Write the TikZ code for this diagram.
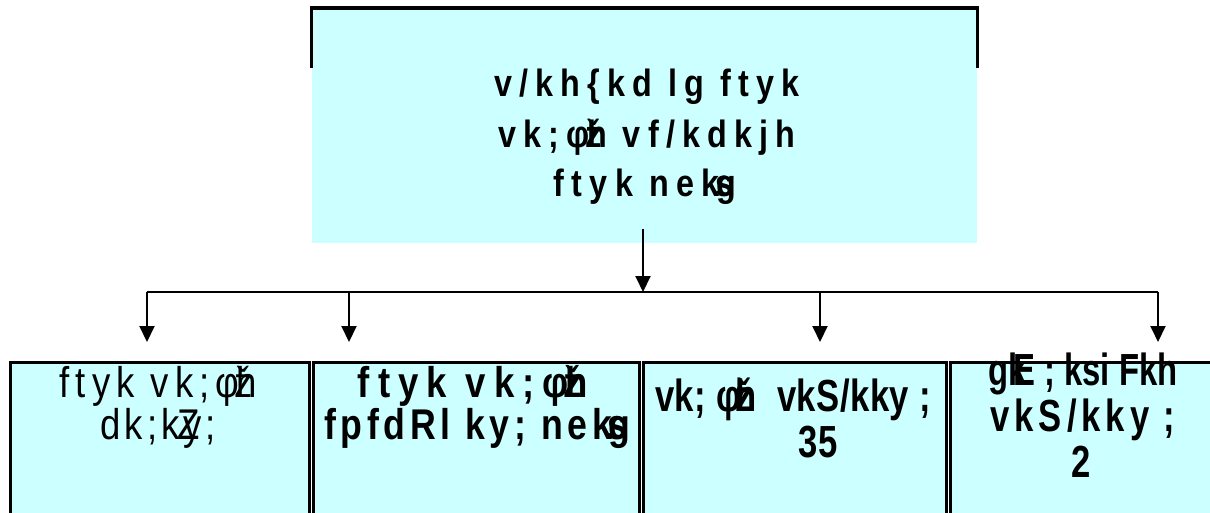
\documentclass[tikz,border=0pt]{standalone}
\usepackage{fontspec}
\setmainfont{Liberation Sans}
\usetikzlibrary{arrows.meta}
\definecolor{boxcyan}{HTML}{CCFFFF}
\newcommand{\qsh}{φ\kern-0.12emž\kern-0.38emh}
\newcommand{\ksg}{k\kern-0.1ems\kern-0.45emg}
\newcommand{\fnt}[3]{\fontsize{#1}{#1}\selectfont\addfontfeatures{FakeStretch=#2,LetterSpace=#3}}
\begin{document}
\begin{tikzpicture}[x=1pt,y=-1pt,
  topbox/.style={fill=boxcyan, inner sep=0pt, minimum width=665pt, minimum height=234pt},
  botbox/.style={fill=boxcyan, draw=black, line width=3pt, inner sep=0pt,
    minimum height=200pt, anchor=north west},
  frame/.style={draw=black, line width=3.5pt},
  ln/.style={inner sep=0pt, anchor=base},
  toptxt/.style={ln, font=\bfseries\fnt{38}{0.85}{19}},
  conn/.style={draw=black, line width=2pt},
  arr/.style={conn, -{Triangle[width=15pt,length=16pt]}}]
\useasboundingbox (0,0) rectangle (1210,513);
\clip (0,0) rectangle (1210,513);
% top box
\node[topbox] (top) at (644.5,126) {};
\node[toptxt] (tt1) at (647,97) {v/kh\{kd lg ftyk};
\node[toptxt] (tt2) at (647,148) {vk;\qsh{} vf/kdkjh};
\node[toptxt] (tt3) at (645,197) {ftyk ne\ksg};
\draw[frame] (311.5,68) -- (311.5,8) -- (977.5,8) -- (977.5,68);
% bottom boxes
\node[botbox, minimum width=299pt] (b1) at (9,361) {};
\node[botbox, minimum width=326pt] (b2) at (312,361) {};
\node[botbox, minimum width=303pt] (b3) at (642,361) {};
\node[botbox, minimum width=280pt] (b4) at (949,361) {};
% texts
\node[ln, font=\fnt{43}{0.85}{14}] (t1a) at (158,397) {ftyk vk;\qsh};
\node[ln, font=\fnt{43}{0.85}{10}] (t1b) at (158,439) {dk;k\kern-0.05emZ\kern-0.4emy;};
\node[ln, font=\bfseries\fnt{43}{0.85}{19}] (t2a) at (473,397) {ftyk vk;\qsh};
\node[ln, font=\bfseries\fnt{43}{0.83}{11}] (t2b) at (477,439) {fpfdRl ky; ne\ksg};
\node[ln, font=\bfseries\fnt{45}{0.77}{1}] (t3a) at (793,411) {vk; \qsh{} \ vkS/kky ;};
\node[ln, font=\bfseries\fnt{45}{0.77}{1}] (t3b) at (818,457) {35};
\node[ln, font=\bfseries\fnt{45}{0.73}{0}] (t4a) at (1083,385) {gk\kern-0.3emE ; ksi Fkh};
\node[ln, font=\bfseries\fnt{45}{0.77}{11}] (t4b) at (1083,431) {vkS/kky ;};
\node[ln, font=\bfseries\fnt{45}{0.77}{1}] (t4c) at (1081,477) {2};
% connectors
\coordinate (hub) at (643,292);
\coordinate (j1) at (147,292);
\coordinate (j2) at (349,292);
\coordinate (j3) at (820,292);
\coordinate (j4) at (1158,292);
\draw[arr] ([xshift=-1.5pt,yshift=14pt]top.south) -- (hub);
\draw[conn] (j1) -- (j4);
\draw[arr, shorten >=19pt] (j1) -- (j1 |- b1.north);
\draw[arr, shorten >=19pt] (j2) -- (j2 |- b2.north);
\draw[arr, shorten >=19pt] (j3) -- (j3 |- b3.north);
\draw[arr, shorten >=19pt] (j4) -- (j4 |- b4.north);
\end{tikzpicture}
\end{document}
